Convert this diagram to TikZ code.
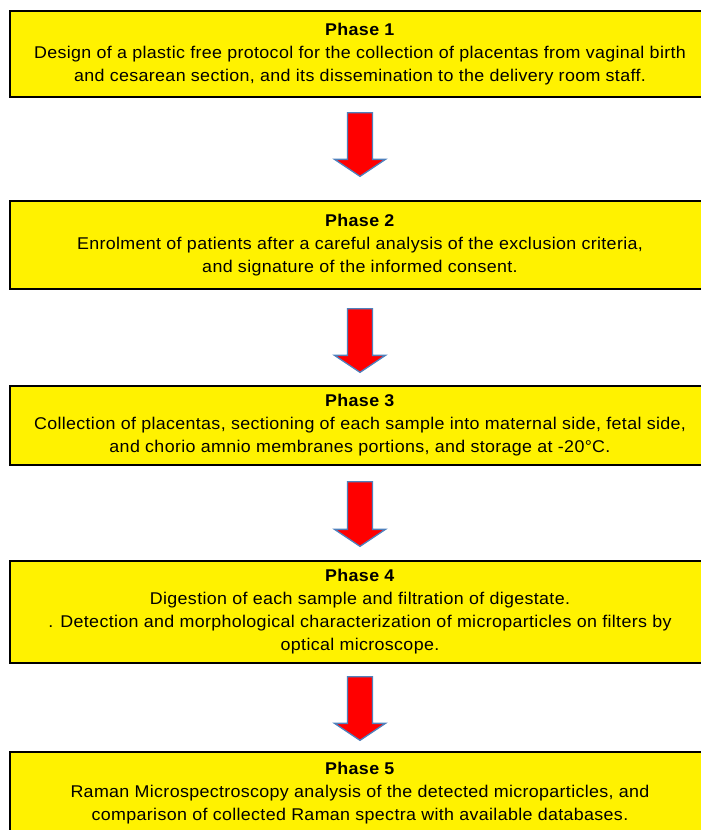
\documentclass[tikz,border=0pt]{standalone}
\usepackage{fontspec}
\setmainfont{Liberation Sans}[FakeStretch=1.05, LetterSpace=2]
\usetikzlibrary{calc}

\definecolor{arrowblue}{RGB}{79,129,189}

\begin{document}
\begin{tikzpicture}[x=1pt, y=1pt]
    \tikzstyle{phase} = [
        fill=yellow,
        draw=black,
        line width=1.3pt,
        rectangle,
        minimum width=700pt,
        align=center,
        font=\fontsize{17}{23}\selectfont
    ]
    \tikzstyle{blockarrow} = [
        fill=red,
        draw=arrowblue,
        line width=1.3pt,
        to path={let \p1=(\tikztostart), \p2=(\tikztotarget) in
            (\x1-12.5pt,\y1) -- (\x1+12.5pt,\y1) -- (\x1+12.5pt,\y2+17pt)
            -- (\x1+25.5pt,\y2+17pt) -- (\x1,\y2) -- (\x1-25.5pt,\y2+17pt)
            -- (\x1-12.5pt,\y2+17pt) -- cycle}
    ]

    \useasboundingbox (0,0) rectangle (701,-830);

    \node[phase, minimum height=86pt] (p1) at (360,-54) {\textbf{Phase 1}\\Design of a plastic free protocol for the collection of placentas from vaginal birth\\and cesarean section, and its dissemination to the delivery room staff.};
    \node[phase, minimum height=88pt] (p2) at (360,-245) {\textbf{Phase 2}\\Enrolment of patients after a careful analysis of the exclusion criteria,\\and signature of the informed consent.};
    \node[phase, minimum height=79pt] (p3) at (360,-425.5) {\textbf{Phase 3}\\Collection of placentas, sectioning of each sample into maternal side, fetal side,\\and chorio amnio membranes portions, and storage at -20°C.};
    \node[phase, minimum height=102pt] (p4) at (360,-612) {\textbf{Phase 4}\\Digestion of each sample and filtration of digestate.\\. Detection and morphological characterization of microparticles on filters by\\optical microscope.};
    \node[phase, minimum height=82pt] (p5) at (360,-793) {\textbf{Phase 5}\\Raman Microspectroscopy analysis of the detected microparticles, and\\comparison of collected Raman spectra with available databases.};

    % phase 1 -> 2 -> 3 -> 4 -> 5
    \foreach \a/\b/\s/\t in {p1/p2/15/24, p2/p3/19/13, p3/p4/16/14, p4/p5/13/11}
        \draw[blockarrow] ([yshift={-\s pt}]\a.south) to ([yshift={\t pt}]\b.north);
\end{tikzpicture}
\end{document}
